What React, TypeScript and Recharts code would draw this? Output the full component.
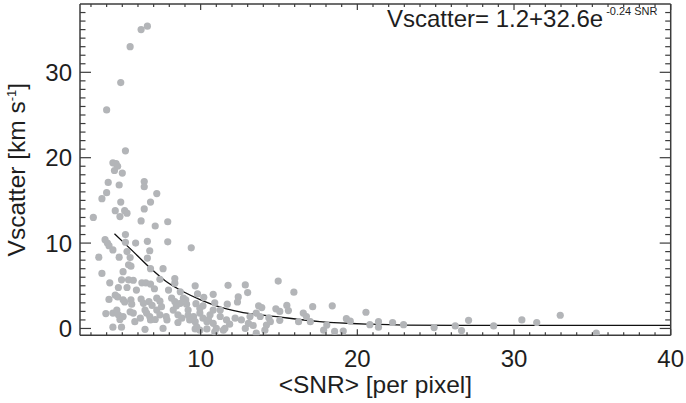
import React from 'react'
import { ComposedChart, Scatter, Line, XAxis, YAxis, Label } from 'recharts'

// measured stars: mean SNR per pixel and velocity scatter (km/s)
const snr = [
  6.2, 6.6, 5.5, 4.9, 4.0, 5.2, 4.4, 4.6, 4.7, 4.5, 5.0, 4.1, 4.8, 6.4, 6.4, 7.2, 4.0, 3.7, 4.9, 6.8,
  4.55, 5.15, 5.3, 6.4, 4.85, 3.15, 6.2, 7.1, 7.9, 5.2, 3.9, 4.05, 4.15, 5.2, 5.85, 6.6, 7.9, 9.4, 4.4, 5.3,
  6.75, 3.5, 4.8, 5.5, 6.6, 5.4, 5.55, 5.05, 3.7, 6.8, 7.6, 4.2, 4.95, 5.4, 5.7, 6.25, 6.5, 6.8, 7.4, 8.35,
  8.35, 9.65, 4.75, 5.3, 5.9, 7.05, 7.95, 4.15, 4.55, 4.7, 5.05, 5.15, 5.55, 5.6, 6.2, 6.35, 6.7, 6.9, 7.2, 7.4,
  7.5, 8.15, 8.35, 8.45, 9.05, 9.1, 9.7, 9.95, 10.8, 10.2, 10.9, 3.95, 4.4, 4.65, 4.75, 5.5, 5.7, 6.45, 6.55, 6.75,
  7.2, 7.4, 7.8, 8.25, 8.55, 8.8, 9.2, 9.2, 9.55, 9.95, 10.15, 10.6, 10.8, 4.85, 5.05, 6.15, 6.8, 7.1, 7.85, 8.55,
  9.65, 10.4, 5.8, 4.4, 4.95, 6.45, 7.6, 9.65, 10.4, 11.0, 11.75, 12.85, 14.95, 9.8, 12.4, 12.35, 13.0, 15.95, 8.7, 8.9,
  10.15, 11.7, 11.25, 10.5, 13.7, 13.9, 13.55, 13.8, 14.8, 15.05, 15.5, 15.6, 17.15, 18.4, 20.55, 16.55, 16.75, 16.25, 17.0, 14.35,
  14.45, 13.15, 13.05, 12.6, 12.2, 11.65, 11.55, 10.9, 11.45, 12.85, 13.35, 14.2, 14.1, 15.05, 17.85, 18.55, 18.05, 19.3, 19.55, 19.1,
  20.8, 21.35, 21.35, 9.75, 9.95, 8.7, 9.3, 10.8, 11.25, 11.85, 13.55, 22.25, 22.95, 24.9, 26.25, 26.65, 27.1, 28.7, 30.5, 31.45,
  32.95, 35.25,
]
const vscatter = [
  35.0, 35.4, 33.0, 28.8, 25.6, 20.8, 19.4, 19.3, 19.0, 18.5, 18.2, 17.1, 16.8, 17.2, 16.6, 15.8, 15.9, 15.2, 14.8, 14.8,
  13.8, 13.8, 13.5, 14.0, 13.1, 13.0, 12.6, 12.0, 12.5, 11.0, 10.4, 10.0, 9.7, 10.1, 10.0, 10.2, 10.15, 9.45, 9.2, 9.0,
  9.1, 8.35, 8.35, 8.3, 8.25, 7.45, 7.3, 6.65, 6.45, 7.0, 7.0, 5.35, 5.7, 5.7, 5.65, 5.35, 5.35, 5.2, 5.75, 5.85,
  5.3, 5.0, 4.8, 4.8, 4.5, 4.65, 4.5, 3.4, 3.9, 3.7, 3.35, 3.1, 3.35, 2.85, 3.45, 2.95, 3.15, 2.7, 3.55, 3.2,
  2.55, 3.55, 3.15, 2.65, 3.35, 2.85, 2.9, 2.35, 4.0, 3.65, 3.0, 1.75, 1.8, 2.15, 1.6, 1.95, 1.8, 2.15, 1.8, 1.4,
  2.15, 1.6, 1.4, 2.15, 1.6, 1.2, 2.15, 1.55, 1.4, 1.8, 1.2, 1.6, 2.15, 1.05, 1.4, 1.2, 1.0, 1.05, 1.0, 0.7,
  0.8, 0.8, 0.8, 0.15, 0.15, -0.1, 0.0, -0.05, -0.05, 0.0, 5.05, 5.1, 5.55, 4.05, 3.7, 3.1, 4.2, 4.25, 4.3, 3.55,
  2.65, 2.85, 2.15, 1.0, 2.65, 2.45, 1.8, 1.4, 2.3, 2.0, 2.7, 2.1, 2.55, 2.65, 1.9, 1.8, 1.4, 0.8, 0.8, 1.25,
  0.8, 1.4, 0.6, 1.0, 1.2, 1.0, 0.0, -0.4, -0.2, 0.0, 0.35, 0.4, -0.2, 0.95, -0.2, -0.35, 0.4, 1.15, 0.85, -0.3,
  0.45, 0.8, 0.15, 0.2, -0.2, 2.95, 1.0, 0.6, 1.4, 0.5, -0.55, 0.7, 0.45, 0.1, 0.3, -0.25, 0.95, 0.3, 1.0, 0.7,
  1.55, -0.55,
]

// fitted curve as drawn in the figure
const fitSnr = [4.5, 5.7, 6.8, 7.8, 8.9, 10, 11, 12.5, 15, 17.6, 20.8, 23, 26.5, 40]
const fitV = [11.1, 9.0, 7.05, 5.5, 4.3, 3.35, 2.65, 1.95, 1.35, 0.8, 0.5, 0.4, 0.37, 0.37]

const xTicks = Array.from({ length: 38 }, (_, i) => i + 3)
const yTicks = Array.from({ length: 38 }, (_, i) => i)
const xLabels = [10, 20, 30, 40]
const yLabels = [0, 10, 20, 30]

const points = snr.map((x, i) => ({ x, y: vscatter[i] }))
const fit = fitSnr.map((x, i) => ({ x, y: fitV[i] }))

const FONT = '"Liberation Sans", Arial, Helvetica, sans-serif'
const INK = '#1e1e1e'
const AXIS = '#3c3c3c'

const tickFor = (side: string) => (props: any) => {
  const { x, y, payload } = props
  const v = payload.value
  const major = v % 10 === 0
  const isX = side === 'bottom' || side === 'top'
  const len = isX ? (major ? 6 : 3) : major ? 11 : 5.5
  let line
  if (side === 'bottom') line = <line x1={x} y1={y} x2={x} y2={y - len} />
  else if (side === 'top') line = <line x1={x} y1={y} x2={x} y2={y + len} />
  else if (side === 'left') line = <line x1={x} y1={y} x2={x + len} y2={y} />
  else line = <line x1={x} y1={y} x2={x - len} y2={y} />
  return (
    <g stroke={AXIS} strokeWidth={1.2}>
      {line}
      {side === 'bottom' && xLabels.includes(v) && (
        <text x={x} y={y + 32} textAnchor="middle" fontSize={24} fontFamily={FONT} fill={INK} stroke="none">
          {v}
        </text>
      )}
      {side === 'left' && yLabels.includes(v) && (
        <text x={x - 8} y={y + 8.5} textAnchor="end" fontSize={24} fontFamily={FONT} fill={INK} stroke="none">
          {v}
        </text>
      )}
    </g>
  )
}

const XTitle = (props: any) => {
  const vb = props.viewBox
  return (
    <text x={vb.x + vb.width / 2} y={vb.y + 58} textAnchor="middle" fontSize={24.5} fontFamily={FONT} fill={INK}>
      {'<SNR> [per pixel]'}
    </text>
  )
}

const YTitle = (props: any) => {
  const vb = props.viewBox
  const cx = vb.x + 25
  const cy = vb.y + vb.height / 2
  return (
    <text x={cx} y={cy} transform={`rotate(-90, ${cx}, ${cy})`} textAnchor="middle" fontSize={24.5} fontFamily={FONT} fill={INK}>
      Vscatter [km s
      <tspan fontSize={13} dy={-9}>-1</tspan>
      <tspan dy={9}>]</tspan>
    </text>
  )
}

const FitNote = (props: any) => {
  const vb = props.viewBox
  return (
    <text x={vb.x + 307} y={27} fontSize={24} fontFamily={FONT} fill={INK}>
      Vscatter= 1.2+32.6e
      <tspan fontSize={11} dx={3} dy={-12}>-0.24 SNR</tspan>
    </text>
  )
}

const Dot = (props: any) => <circle cx={props.cx} cy={props.cy} r={3.6} fill="#b3b5b8" />

export default function App() {
  return (
    <div style={{ position: 'absolute', left: 0, top: 0, width: 686, height: 403, background: '#fff' }}>
      <ComposedChart width={686} height={403} margin={{ top: 0, right: 0, bottom: 0, left: 0 }}>
        <XAxis
          xAxisId="b"
          dataKey="x"
          type="number"
          orientation="bottom"
          domain={[2.3, 40]}
          allowDataOverflow
          ticks={xTicks}
          interval={0}
          height={67.7}
          tickSize={0}
          tickMargin={0}
          tickLine={false}
          axisLine={{ stroke: AXIS, strokeWidth: 1.5 }}
          tick={tickFor('bottom')}
        >
          <Label content={XTitle} />
        </XAxis>
        <XAxis
          xAxisId="t"
          dataKey="x"
          type="number"
          orientation="top"
          domain={[2.3, 40]}
          allowDataOverflow
          ticks={xTicks}
          interval={0}
          height={4}
          tickSize={0}
          tickMargin={0}
          tickLine={false}
          axisLine={{ stroke: AXIS, strokeWidth: 1.5 }}
          tick={tickFor('top')}
        >
          <Label content={FitNote} />
        </XAxis>
        <YAxis
          yAxisId="l"
          dataKey="y"
          type="number"
          orientation="left"
          domain={[-0.8, 38]}
          allowDataOverflow
          ticks={yTicks}
          interval={0}
          width={80}
          tickSize={0}
          tickMargin={0}
          tickLine={false}
          axisLine={{ stroke: AXIS, strokeWidth: 1.5 }}
          tick={tickFor('left')}
        >
          <Label content={YTitle} />
        </YAxis>
        <YAxis
          yAxisId="r"
          dataKey="y"
          type="number"
          orientation="right"
          domain={[-0.8, 38]}
          allowDataOverflow
          ticks={yTicks}
          interval={0}
          width={15.3}
          tickSize={0}
          tickMargin={0}
          tickLine={false}
          axisLine={{ stroke: AXIS, strokeWidth: 1.5 }}
          tick={tickFor('right')}
        />
        <Scatter xAxisId="b" yAxisId="l" data={points} dataKey="y" shape={Dot} isAnimationActive={false} />
        <Line
          xAxisId="b"
          yAxisId="l"
          data={fit}
          dataKey="y"
          type="monotone"
          stroke="#111"
          strokeWidth={1.3}
          dot={false}
          activeDot={false}
          isAnimationActive={false}
        />
      </ComposedChart>
    </div>
  )
}
